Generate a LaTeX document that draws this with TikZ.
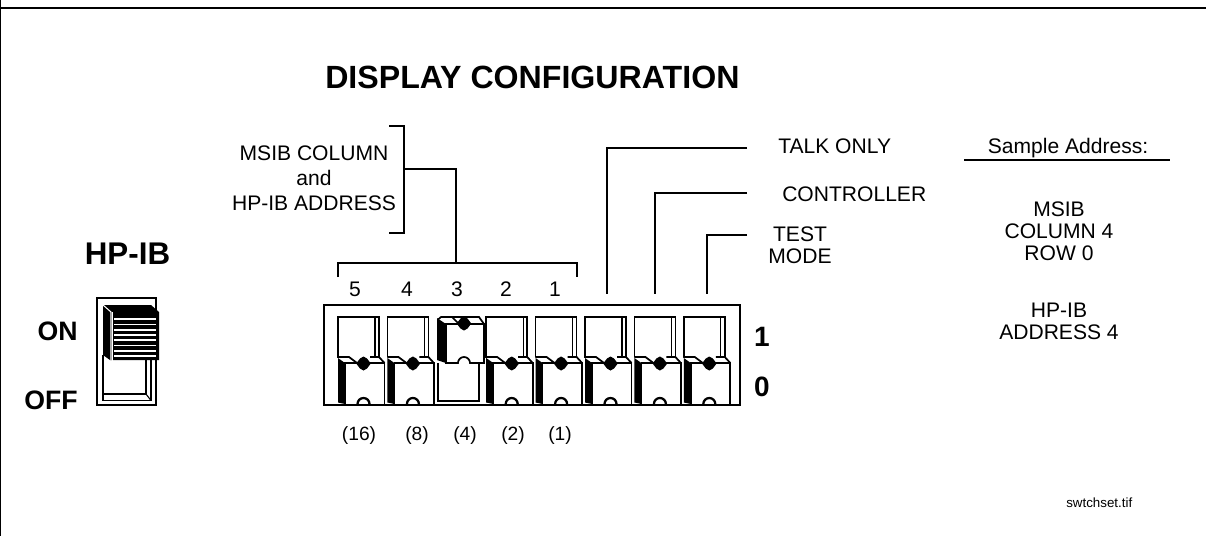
\documentclass[tikz,border=0pt]{standalone}
\usepackage{fontspec}
\setmainfont{Liberation Sans}
\begin{document}
\begin{tikzpicture}[x=0.75pt, y=-0.75pt, line cap=butt,
    lbl/.style={inner sep=0pt, font=\fontsize{15.8}{16.5}\selectfont, align=center},
    bold/.style={inner sep=0pt, font=\bfseries\fontsize{23.5}{25}\selectfont},
    big/.style={inner sep=0pt, font=\bfseries\fontsize{20}{22}\selectfont},
    wire/.style={line width=1.2pt},
    edge/.style={line width=1.3pt},
    thinedge/.style={line width=0.8pt}]

\useasboundingbox (0,0) rectangle (1206,536);

% Page frame
\coordinate (FL) at (0,8);
\coordinate (FR) at (1206,8);
\coordinate (FT) at (0.5,0);
\coordinate (FB) at (0.5,536);
\draw[line width=1.8pt] (FL) -- (FR);
\draw[line width=1.2pt] (FT) -- (FB);

% Titles
\node[bold, font=\bfseries\fontsize{24.1}{26}\selectfont, anchor=base west] (title) at (325,88) {DISPLAY CONFIGURATION};
\node[bold, anchor=base] (hpib) at (127.5,264) {HP-IB};
\node[big, anchor=base east] (on) at (78,340) {ON};
\node[big, anchor=base east] (off) at (78,409) {OFF};

% HP-IB switch
\draw[edge] (97,298) rectangle (156,405);
\draw[edge] (103,355) -- (103,400.5) -- (151,400.5) -- (151,360);
\draw[thinedge] (103,394) -- (146,394) -- (146,360);
\draw[thinedge] (146,394) -- (151,400.5);
\fill[black] (103,305) -- (151,305) -- (159,312) -- (159,360) -- (110,360) -- (103,355) -- cycle;
\draw[white, thinedge] (103,305) -- (111,312) -- (111,360);
\fill[white] (112,312) rectangle (113,361);
\foreach \y in {319,324.3,330,335,340,345.7,351,356} {
    \draw[white, line width=1pt] (114,\y) -- (156,\y);
}

% Switches set to 0
\foreach \i in {0,1,3,4,5,6,7} {
    \begin{scope}[shift={(49.4*\i,0)}]
        \draw[edge] (338,358) -- (338,317) -- (379,317) -- (379,358);
        \draw[thinedge] (375,317) -- (375,358);
        \fill[white] (338,357) -- (379,357) -- (384.5,363) -- (384.5,404) -- (345,404) -- (338,402) -- cycle;
        \fill[black] (338,358) -- (345,363) -- (345,404) -- (338,402.5) -- cycle;
        \draw[edge] (338,357) -- (349,357) -- (357,363);
        \draw[edge] (370,357) -- (379,357) -- (384.5,363);
        \draw[edge] (345,404) -- (345,363) -- (384.5,363) -- (384.5,404);
        \fill[black] (356.2,363.5) -- (360,358.5) -- (363.5,356.5) -- (367,358.5) -- (370.8,363.5) -- (367,368.5) -- (363.5,370.5) -- (360,368.5) -- cycle;
        \draw[line width=1.7pt, fill=white] (357.5,404) arc (180:360:6);
    \end{scope}
}

% Switch set to 1
\draw[edge] (437.7,363) -- (437.7,400.7) -- (479,400.7) -- (479,363);
\fill[black] (437,318) -- (446,324) -- (446,363) -- (437,360) -- cycle;
\draw[edge, fill=white] (446,363) -- (446,324) -- (484,324) -- (484,363) -- cycle;
\draw[edge] (437.5,320) -- (441,317) -- (479,317) -- (484,324);
\draw[edge] (452,317) -- (459,324);
\fill[black] (456.7,323.5) -- (460.5,318.5) -- (464,316.5) -- (467.5,318.5) -- (471.3,323.5) -- (467.5,328.5) -- (464,330.5) -- (460.5,328.5) -- cycle;
\draw[edge, fill=white] (458,363) arc (180:360:6);
\draw[white, line width=1.6pt] (458.8,363) -- (469.2,363);

% Switch bank
\draw[edge] (324,305) rectangle (740,405);

% Numbers above and weights below
\foreach \x/\lbl in {355/5, 407/4, 457/3, 506/2, 555/1} {
    \node[lbl, anchor=base] (pos\lbl) at (\x,296) {\lbl};
}
\foreach \x/\n/\lbl in {359/a/(16), 417/b/(8), 465/c/(4), 513/d/(2), 560/e/(1)} {
    \node[lbl, font=\fontsize{14.4}{16.5}\selectfont, anchor=base] (wt\n) at (\x,440) {\lbl};
}
\node[big, font=\bfseries\fontsize{21}{23}\selectfont, anchor=base] (one) at (762,346) {1};
\node[big, font=\bfseries\fontsize{21}{23}\selectfont, anchor=base] (zero) at (762,396) {0};

% Bracket for the address switches
\coordinate (BT) at (389,126);
\coordinate (BB) at (389,233);
\coordinate (BM) at (404,169);
\coordinate (GJ) at (456,263);
\coordinate (GL) at (338,277);
\coordinate (GR) at (577,277);
\node[lbl, font=\fontsize{15.8}{18.7}\selectfont] (msib) at (314,178) {MSIB COLUMN\\and\\HP-IB ADDRESS};
\draw[wire] (BT) -| (BM |- BB) -- (BB);
\draw[wire] (BM) -| (GJ);
\draw[wire] (GL) |- (GR |- GJ) -- (GR);

% Labels of the other switches
\node[lbl, anchor=base west] (talk) at (778,153) {TALK ONLY};
\node[lbl, anchor=base west] (ctrl) at (782,201) {CONTROLLER};
\node[lbl] (test) at (800,245) {TEST\\MODE};
\coordinate (TE) at (747,148);
\coordinate (TF) at (607,294);
\coordinate (CE) at (747,193);
\coordinate (CF) at (655,294);
\coordinate (ME) at (747,235);
\coordinate (MF) at (707,294);
\foreach \a/\b in {TE/TF, CE/CF, ME/MF} {
    \draw[wire] (\a) -| (\b);
}

% Sample address
\node[lbl, anchor=base] (sample) at (1068,153) {Sample Address:};
\coordinate (SL) at (964,160);
\coordinate (SR) at (1170,160);
\draw[wire] (SL) -- (SR);
\node[lbl] (col) at (1059,231) {MSIB\\COLUMN 4\\ROW 0};
\node[lbl] (addr) at (1059,321) {HP-IB\\ADDRESS 4};
\node[lbl, font=\fontsize{10}{12}\selectfont, anchor=base west] (file) at (1066,507) {swtchset.tif};

\end{tikzpicture}
\end{document}
